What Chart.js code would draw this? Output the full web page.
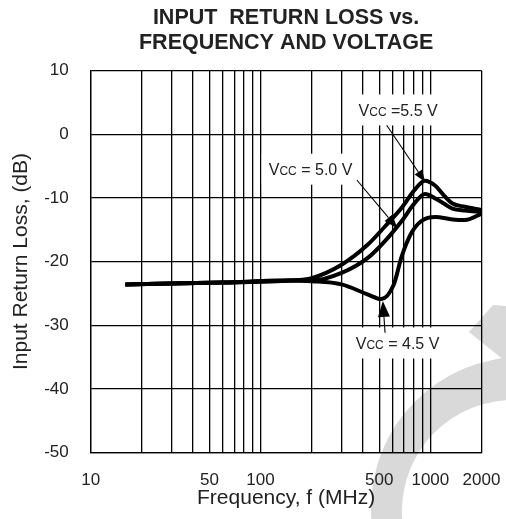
<!DOCTYPE html>
<html>
<head>
<meta charset="utf-8">
<title>Input Return Loss vs. Frequency and Voltage</title>
<script src="https://cdn.jsdelivr.net/npm/chart.js@4.4.0/dist/chart.umd.min.js"></script>
<style>
  html, body { margin: 0; padding: 0; background: #fff; }
</style>
</head>
<body>
<canvas id="loss-chart" width="506" height="519"></canvas>
<script>
// values (MHz, dB)
const freq55 = [16, 60, 150, 200, 300, 430, 540, 680, 810, 930, 1070, 1200, 1350, 1600, 2000];
const loss55 = [-23.6, -23.3, -23.0, -22.6, -20.5, -17.3, -14.5, -11.5, -8.7, -7.3, -8.1, -9.6, -10.9, -11.4, -11.9];

const freq50 = [16, 60, 150, 200, 300, 430, 540, 680, 810, 930, 1070, 1200, 1350, 1600, 2000];
const loss50 = [-23.6, -23.3, -23.0, -23.0, -21.8, -19.4, -16.8, -13.6, -10.8, -9.4, -10.1, -10.9, -11.7, -12.0, -12.2];

const freq45 = [16, 60, 150, 200, 300, 430, 514, 607, 678, 774, 890, 1070, 1350, 1600, 2000];
const loss45 = [-23.6, -23.3, -23.0, -23.1, -23.6, -25.2, -25.9, -23.7, -19.2, -15.5, -13.6, -13.0, -13.4, -13.5, -12.5];

const gridFreqs = [10, 20, 30, 40, 50, 60, 70, 80, 90, 100, 200, 300, 400, 500, 600, 700, 800, 900, 1000, 2000];
const freqLabels = [10, 50, 100, 500, 1000, 2000];
const lossMin = -50;
const lossMax = 10;

// label text, label centre, arrow start, arrow tip (all in MHz / dB)
const notes = [
  {rest: ' =5.5 V', at: [646, 3.8], from: [553, 1.4], to: [931, -7.5], head: [12, 4.5]},
  {rest: ' = 5.0 V', at: [197, -5.5], from: [369, -7.2], to: [640, -14.8], head: [14, 5]},
  {rest: ' = 4.5 V', at: [641, -32.8], from: [541, -31.2], to: [525, -26.2], head: [16, 6]}
];

const FONT = '"Liberation Sans", Arial, Helvetica, sans-serif';

function toPoints(xs, ys) {
  return xs.map((x, i) => ({x: x, y: ys[i]}));
}

function lineSet(label, xs, ys) {
  return {
    label: label,
    data: toPoints(xs, ys),
    borderColor: '#000',
    borderWidth: 4,
    pointRadius: 0,
    fill: false,
    cubicInterpolationMode: 'monotone'
  };
}

const watermark = {
  id: 'watermark',
  beforeDraw(chart) {
    const ctx = chart.ctx;
    ctx.save();
    ctx.fillStyle = '#d9d9d9';
    ctx.beginPath();
    ctx.arc(522, 508, 151, 0, Math.PI * 2);
    ctx.arc(513, 511, 111, 0, Math.PI * 2, true);
    ctx.fill('evenodd');
    ctx.beginPath();
    ctx.moveTo(469, 332);
    ctx.lineTo(493, 305);
    ctx.lineTo(530, 308);
    ctx.lineTo(530, 381);
    ctx.closePath();
    ctx.fill();
    ctx.restore();
  }
};

const vccNotes = {
  id: 'vccNotes',
  afterDatasetsDraw(chart) {
    const ctx = chart.ctx;
    const xs = chart.scales.x;
    const ys = chart.scales.y;
    const big = '16px ' + FONT;
    const small = '12px ' + FONT;
    ctx.save();
    notes.forEach((n) => {
      const cx = xs.getPixelForValue(n.at[0]);
      const cy = ys.getPixelForValue(n.at[1]);
      ctx.font = big;
      const wV = ctx.measureText('V').width;
      const wRest = ctx.measureText(n.rest).width;
      ctx.font = small;
      const wCC = ctx.measureText('CC').width;
      const total = wV + wCC + wRest;
      const x0 = cx - total / 2;

      ctx.fillStyle = '#fff';
      ctx.fillRect(x0 - 7, cy - 15.5, total + 14, 31);

      ctx.fillStyle = '#222';
      ctx.textBaseline = 'alphabetic';
      ctx.textAlign = 'left';
      const base = cy + 5.8;
      ctx.font = big;
      ctx.fillText('V', x0, base);
      ctx.font = small;
      ctx.fillText('CC', x0 + wV, base);
      ctx.font = big;
      ctx.fillText(n.rest, x0 + wV + wCC, base);

      // arrow
      const fx = xs.getPixelForValue(n.from[0]);
      const fy = ys.getPixelForValue(n.from[1]);
      const tx = xs.getPixelForValue(n.to[0]);
      const ty = ys.getPixelForValue(n.to[1]);
      const ang = Math.atan2(ty - fy, tx - fx);
      const len = n.head[0];
      const half = n.head[1];
      const bx = tx - len * Math.cos(ang);
      const by = ty - len * Math.sin(ang);
      ctx.strokeStyle = '#000';
      ctx.lineWidth = 1.1;
      ctx.beginPath();
      ctx.moveTo(fx, fy);
      ctx.lineTo(bx, by);
      ctx.stroke();
      ctx.fillStyle = '#000';
      ctx.beginPath();
      ctx.moveTo(tx, ty);
      ctx.lineTo(bx + half * Math.sin(ang), by - half * Math.cos(ang));
      ctx.lineTo(bx - half * Math.sin(ang), by + half * Math.cos(ang));
      ctx.closePath();
      ctx.fill();
    });
    ctx.restore();
  }
};

const lossChart = new Chart(document.getElementById('loss-chart'), {
  type: 'line',
  data: {
    datasets: [
      lineSet('VCC = 5.5 V', freq55, loss55),
      lineSet('VCC = 5.0 V', freq50, loss50),
      lineSet('VCC = 4.5 V', freq45, loss45)
    ]
  },
  options: {
    responsive: false,
    animation: false,
    devicePixelRatio: 1,
    layout: {padding: {left: 0, right: 24.5, top: 0, bottom: 0}},
    plugins: {
      legend: {display: false},
      tooltip: {enabled: false},
      title: {
        display: true,
        fullSize: false,
        text: ['INPUT  RETURN LOSS vs.', 'FREQUENCY AND VOLTAGE'],
        color: '#222',
        font: {family: FONT, size: 21.5, weight: 'bold', lineHeight: 1.186},
        padding: {top: 5, bottom: 14.5}
      }
    },
    scales: {
      x: {
        type: 'logarithmic',
        min: 10,
        max: 2000,
        afterBuildTicks: (scale) => {
          scale.ticks = gridFreqs.map((v) => ({value: v}));
        },
        afterFit: (scale) => {
          scale.height = 66.5;
          scale.paddingLeft = 0;
          scale.paddingRight = 0;
        },
        ticks: {
          autoSkip: false,
          maxRotation: 0,
          padding: 18,
          color: '#222',
          font: {family: FONT, size: 17},
          callback: (v) => (freqLabels.includes(v) ? String(v) : '')
        },
        grid: {color: '#000', lineWidth: 1.3, drawTicks: false},
        border: {color: '#000', width: 1.3},
        title: {
          display: true,
          text: 'Frequency, f (MHz)',
          color: '#222',
          font: {family: FONT, size: 21},
          padding: {top: 0, bottom: 8.4}
        }
      },
      y: {
        type: 'linear',
        min: lossMin,
        max: lossMax,
        afterFit: (scale) => {
          scale.width = 90.7;
          scale.paddingTop = 0;
          scale.paddingBottom = 0;
        },
        ticks: {
          stepSize: 10,
          padding: 22,
          color: '#222',
          font: {family: FONT, size: 17}
        },
        grid: {color: '#000', lineWidth: 1.3, drawTicks: false},
        border: {color: '#000', width: 1.3},
        title: {
          display: true,
          text: 'Input Return Loss, (dB)',
          color: '#222',
          font: {family: FONT, size: 21},
          padding: {top: 8.4, bottom: 0}
        }
      }
    }
  },
  plugins: [watermark, vccNotes]
});
</script>
</body>
</html>
